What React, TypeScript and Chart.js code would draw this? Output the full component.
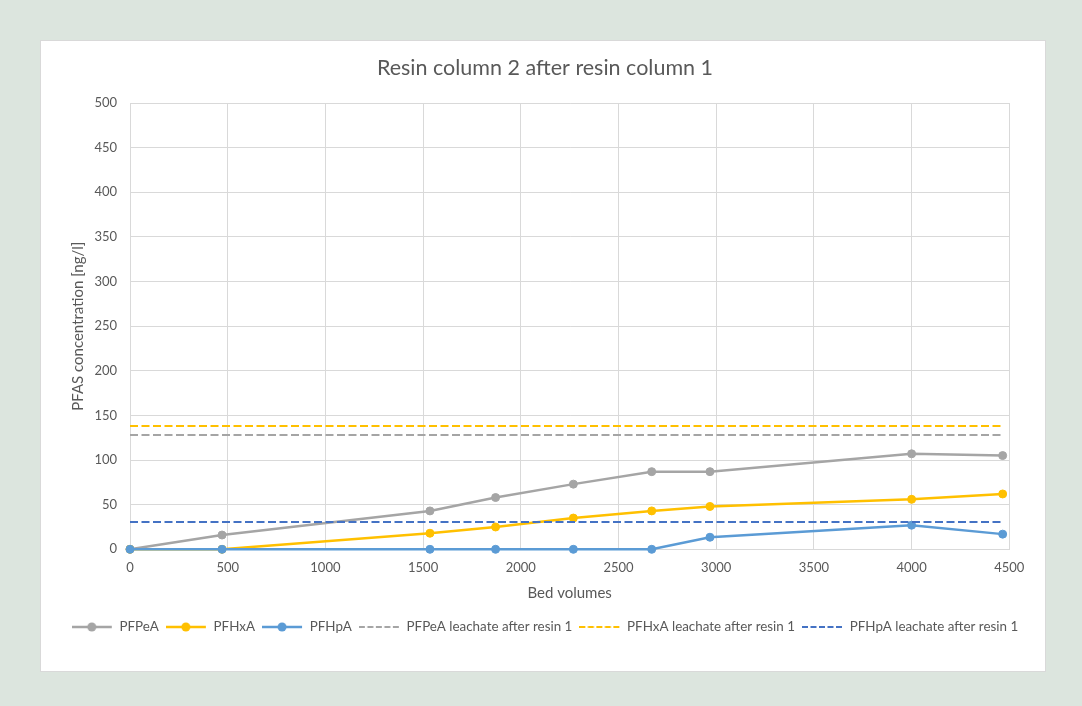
import React, { useEffect, useRef } from "react";
import { Chart, registerables } from "chart.js";

Chart.register(...registerables);

const bedVolumes = [0, 471, 1535, 1871, 2269, 2670, 2968, 4000, 4466];
const pfpea = [0, 16, 43, 58, 73, 87, 87, 107, 105];
const pfhxa = [0, 0, 18, 25, 35, 43, 48, 56, 62];
const pfhpa = [0, 0, 0, 0, 0, 0, 13.5, 27, 17];
const pfpeaLeachate = [128, 128, 128, 128, 128, 128, 128, 128, 128];
const pfhxaLeachate = [138, 138, 138, 138, 138, 138, 138, 138, 138];
const pfhpaLeachate = [30.5, 30.5, 30.5, 30.5, 30.5, 30.5, 30.5, 30.5, 30.5];

const seriesNames = [
  "PFPeA",
  "PFHxA",
  "PFHpA",
  "PFPeA leachate after resin 1",
  "PFHxA leachate after resin 1",
  "PFHpA leachate after resin 1",
];
const seriesColors = ["#a5a5a5", "#ffc000", "#5b9bd5", "#a5a5a5", "#ffc000", "#4472c4"];
const seriesValues = [pfpea, pfhxa, pfhpa, pfpeaLeachate, pfhxaLeachate, pfhpaLeachate];

const FONT = "Lato, 'Open Sans', sans-serif";
const TEXT = "#595959";
const GRID = "#d9d9d9";

function legendImage(color: string, dashed: boolean): HTMLCanvasElement {
  const c = document.createElement("canvas");
  c.width = 41;
  c.height = 12;
  const ctx = c.getContext("2d")!;
  ctx.strokeStyle = color;
  ctx.lineWidth = dashed ? 2 : 2.5;
  if (dashed) ctx.setLineDash([6, 2.5]);
  ctx.beginPath();
  ctx.moveTo(0, 6);
  ctx.lineTo(40, 6);
  ctx.stroke();
  if (!dashed) {
    ctx.setLineDash([]);
    ctx.fillStyle = color;
    ctx.beginPath();
    ctx.arc(20, 6, 4.5, 0, Math.PI * 2);
    ctx.fill();
  }
  return c;
}

export default function App() {
  const ref = useRef<HTMLCanvasElement>(null);
  useEffect(() => {
    if (!ref.current) return;
    const images = seriesColors.map((c, i) => legendImage(c, i >= 3));
    const datasets = seriesNames.map((name, i) => {
      const dashed = i >= 3;
      return {
        label: name,
        data: bedVolumes.map((x, j) => ({ x, y: seriesValues[i][j] })),
        borderColor: seriesColors[i],
        backgroundColor: seriesColors[i],
        borderWidth: dashed ? 2 : 2.5,
        borderDash: dashed ? [8, 3.5] : [],
        pointRadius: dashed ? 0 : 4,
        pointBorderWidth: 1,
        pointBackgroundColor: seriesColors[i],
        pointBorderColor: seriesColors[i],
        tension: 0,
        fill: false,
        clip: false,
        order: 6 - i,
      };
    });
    const chart = new Chart(ref.current, {
      type: "line",
      data: { datasets },
      options: {
        animation: false,
        responsive: false,
        devicePixelRatio: 1,
        layout: { padding: { left: 54, right: 46, top: 0, bottom: 62.3 } },
        plugins: {
          tooltip: { enabled: false },
          title: {
            display: true,
            text: "Resin column 2 after resin column 1",
            color: TEXT,
            font: { family: FONT, size: 21.5, weight: "normal" },
            padding: { top: 55.1, bottom: 22.1 },
          },
          legend: {
            display: true,
            position: "bottom",
            align: "center",
            labels: {
              usePointStyle: true,
              pointStyleWidth: 41,
              padding: 7,
              color: TEXT,
              font: { family: FONT, size: 13.4 },
              generateLabels: () =>
                seriesNames.map((name, i) => ({
                  text: name,
                  pointStyle: images[i],
                  fillStyle: seriesColors[i],
                  strokeStyle: seriesColors[i],
                  lineWidth: 0,
                  hidden: false,
                  datasetIndex: i,
                  fontColor: TEXT,
                })),
            },
          },
        },
        scales: {
          x: {
            type: "linear",
            min: 0,
            max: 4500,
            afterFit: (s: any) => {
              s.height = 64;
            },
            ticks: {
              stepSize: 500,
              padding: 11,
              color: TEXT,
              font: { family: FONT, size: 13 },
              callback: (v: any) => String(v),
            },
            grid: { color: GRID, drawTicks: false },
            border: { color: GRID },
            title: {
              display: true,
              text: "Bed volumes",
              color: TEXT,
              font: { family: FONT, size: 15 },
              padding: { top: 4, bottom: 11.5 },
            },
          },
          y: {
            type: "linear",
            min: 0,
            max: 500,
            afterFit: (s: any) => {
              s.width = 76;
            },
            ticks: {
              stepSize: 50,
              padding: 13,
              color: TEXT,
              font: { family: FONT, size: 13 },
            },
            grid: { color: GRID, drawTicks: false },
            border: { color: GRID },
            title: {
              display: true,
              text: "PFAS concentration [ng/l]",
              color: TEXT,
              font: { family: FONT, size: 15 },
              padding: { top: 15, bottom: 4 },
            },
          },
          y2: {
            type: "linear",
            position: "right",
            display: true,
            afterFit: (s: any) => {
              s.width = 26.7;
            },
            ticks: { display: false },
            grid: { display: false },
            border: { display: false },
          },
        },
      },
    } as any);
    return () => chart.destroy();
  }, []);

  return (
    <div style={{ position: "fixed", left: 0, top: 0, width: 1082, height: 706, background: "#dce5de" }}>
      <div
        style={{
          position: "absolute",
          left: 40,
          top: 40,
          width: 1004,
          height: 630,
          background: "#ffffff",
          border: "1px solid #d9d9d9",
        }}
      />
      <canvas
        ref={ref}
        width={1082}
        height={706}
        style={{ position: "absolute", left: 0, top: 0, width: 1082, height: 706 }}
      />
    </div>
  );
}
